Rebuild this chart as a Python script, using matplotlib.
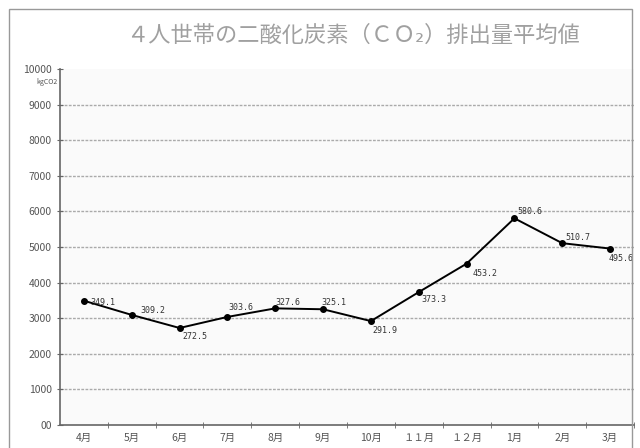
import matplotlib.pyplot as plt
from matplotlib.patches import Rectangle

# monthly averages (label values, x10 gives the plotted kg-CO2 level)
months = ["4月", "5月", "6月", "7月", "8月", "9月", "10月", "１１月", "１２月", "1月", "2月", "3月"]
labels = [349.1, 309.2, 272.5, 303.6, 327.6, 325.1, 291.9, 373.3, 453.2, 580.6, 510.7, 495.6]
scale = 10

y_ticks = [0, 1000, 2000, 3000, 4000, 5000, 6000, 7000, 8000, 9000, 10000]
y_ticklabels = ["00", "1000", "2000", "3000", "4000", "5000", "6000", "7000", "8000", "9000", "10000"]

# label offsets in points (dx, dy) per point
offsets = [(5, -1), (6, 3), (2, -6), (1, 7), (0, 4), (-1, 5),
           (1, -7), (2, -5), (4, -7), (2, 5), (2, 4), (-1, -7)]

plt.rcParams["font.family"] = ["Noto Sans CJK JP", "DejaVu Sans"]

fig = plt.figure(figsize=(6.4, 4.48), dpi=100)
fig.patch.set_facecolor("white")

# outer frame
fig.add_artist(Rectangle((9 / 640, -0.05), 623 / 640, 1 - 9 / 448 + 0.05,
                         transform=fig.transFigure, fill=False,
                         edgecolor="#999999", linewidth=1))

fig.text(353 / 640, 1 - 35 / 448, "４人世帯の二酸化炭素（ＣＯ₂）排出量平均値",
         ha="center", va="center", fontsize=16, color="#a0a0a0")

ax = fig.add_axes([60 / 640, 1 - 425 / 448, 574 / 640, 356 / 448])
ax.set_facecolor("#fafafa")

x = list(range(len(months)))
y = [v * scale for v in labels]

for g in y_ticks[1:-1]:
    ax.axhline(g, color="#aaaaaa", linewidth=1, linestyle=(0, (2, 1)), zorder=1)

ax.plot(x, y, color="black", linewidth=1.4, marker="o", markersize=4, zorder=3)

for xi, yi, v, (dx, dy) in zip(x, y, labels, offsets):
    ax.annotate(f"{v:.1f}", (xi, yi), xytext=(dx, dy), textcoords="offset points",
                ha="left", va="center", fontsize=6, family="DejaVu Sans Mono",
                color="#333333")

ax.set_xlim(-0.5, len(months) - 0.5)
ax.set_ylim(0, 10000)
ax.set_yticks(y_ticks)
ax.set_yticklabels(y_ticklabels)
ax.set_xticks(x)
ax.set_xticklabels(months)
ax.set_xticks([i + 0.5 for i in range(len(months))], minor=True)
ax.tick_params(axis="x", which="major", length=0, pad=6, labelsize=7.5, labelcolor="#555555")
ax.tick_params(axis="x", which="minor", length=4, direction="inout", color="#666666")
ax.tick_params(axis="y", length=4, direction="inout", color="#666666",
               labelsize=7.5, labelcolor="#555555", pad=4)

for side in ("top", "right"):
    ax.spines[side].set_visible(False)
for side in ("left", "bottom"):
    ax.spines[side].set_color("#666666")
    ax.spines[side].set_linewidth(1.2)

fig.text(58 / 640, 1 - 82 / 448, "kgCO2", ha="right", va="center",
         fontsize=5, color="#555555")

fig.savefig("out.png", dpi=100)
